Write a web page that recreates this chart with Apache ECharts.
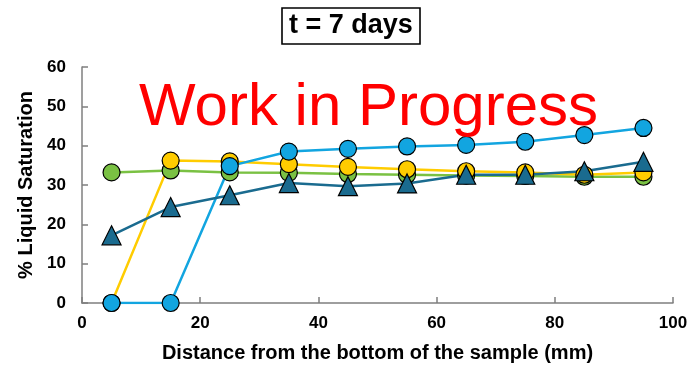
<!DOCTYPE html>
<html><head><meta charset="utf-8">
<script src="https://cdn.jsdelivr.net/npm/echarts@6/dist/echarts.min.js"></script>
<style>html,body{margin:0;padding:0;background:#fff}#c{width:698px;height:369px}</style>
</head><body><div id="c"></div>
<script>
const xPositions = [5, 15, 25, 35, 45, 55, 65, 75, 85, 95];
const greenValues = [33.2, 33.7, 33.2, 33.1, 32.8, 32.6, 32.4, 32.3, 32.1, 32.1];
const yellowValues = [0, 36.2, 36.0, 35.3, 34.6, 34.0, 33.5, 33.2, 32.6, 33.2];
const blueValues = [0, 0, 34.8, 38.5, 39.2, 39.8, 40.2, 41.0, 42.7, 44.5];
const triangleValues = [17.2, 24.4, 27.4, 30.5, 29.7, 30.4, 32.6, 32.6, 33.5, 35.9];
const yTicks = [0, 10, 20, 30, 40, 50, 60];
const xTicks = [0, 20, 40, 60, 80, 100];

const FONT = '"Liberation Sans Narrow", "Liberation Sans", Arial, sans-serif';
function pts(vals){ return xPositions.map((x,i)=>[x, vals[i]]); }
function ser(name, vals, color, symbol, size){
  return {name, type:'line', data:pts(vals), symbol, symbolSize:size,
    lineStyle:{color, width:2.5}, itemStyle:{color, borderColor:'#000', borderWidth:1.2},
    emphasis:{disabled:true}, z:2};
}
const chart = echarts.init(document.getElementById('c'), null, {renderer:'canvas'});
chart.setOption({
  animation:false,
  grid:{left:82, right:25, top:67, bottom:66},
  title:{text:'t = 7 days', left:282, top:8,
    textStyle:{fontFamily:FONT, fontWeight:'bold', fontSize:27, color:'#000', lineHeight:28},
    borderColor:'#000', borderWidth:1.6, padding:[4,7,4,7]},
  graphic:[{type:'text', left:139, top:78, z:10,
    style:{text:'Work in Progress', fill:'#ff0000', font:'normal 60px "Liberation Sans", Arial, sans-serif'}}],
  xAxis:{type:'value', min:0, max:100, interval:20,
    name:'Distance from the bottom of the sample (mm)', nameLocation:'middle', nameGap:40,
    nameTextStyle:{fontFamily:FONT, fontWeight:'bold', fontSize:20, color:'#000'},
    axisLine:{lineStyle:{color:'#7f7f7f', width:1.5}},
    axisTick:{show:true, inside:true, length:6, lineStyle:{color:'#7f7f7f', width:1.5}},
    axisLabel:{fontFamily:FONT, fontWeight:'bold', fontSize:17, color:'#000', margin:12,
      formatter:v=>xTicks.includes(v)?String(v):''},
    splitLine:{show:false}},
  yAxis:{type:'value', min:0, max:60, interval:10,
    name:'% Liquid Saturation', nameLocation:'middle', nameGap:43, nameRotate:90,
    nameTextStyle:{fontFamily:FONT, fontWeight:'bold', fontSize:20, color:'#000'},
    axisLine:{show:true, lineStyle:{color:'#7f7f7f', width:1.5}},
    axisTick:{show:true, inside:true, length:6, lineStyle:{color:'#7f7f7f', width:1.5}},
    axisLabel:{fontFamily:FONT, fontWeight:'bold', fontSize:17, color:'#000', margin:16,
      formatter:v=>yTicks.includes(v)?String(v):''},
    splitLine:{show:false}},
  series:[
    ser('green', greenValues, '#7AC143', 'circle', 17),
    ser('yellow', yellowValues, '#FFCC00', 'circle', 17),
    ser('blue', blueValues, '#12A5E0', 'circle', 17),
    ser('triangle', triangleValues, '#1A6B8F', 'triangle', 19)
  ]
});
</script></body></html>
